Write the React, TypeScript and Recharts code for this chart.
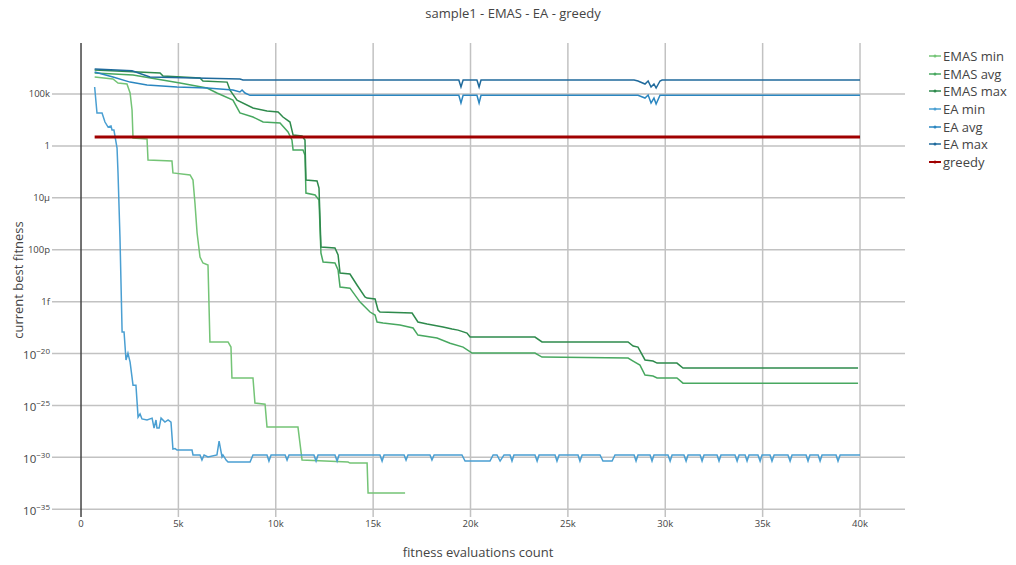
import React from 'react';
import { LineChart, Line, XAxis, YAxis, ReferenceLine } from 'recharts';

type Pt = [number, number];

const X_TICKS = [0, 5000, 10000, 15000, 20000, 25000, 30000, 35000, 40000];
const Y_TICKS = [1e5, 1, 1e-5, 1e-10, 1e-15, 1e-20, 1e-25, 1e-30, 1e-35];
const Y_NAMED: { [k: number]: string } = { 5: '100k', 0: '1', [-5]: '10µ', [-10]: '100p', [-15]: '1f' };

// [evaluations, fitness]
const emasMin: Pt[] = [
  [700, 4.3e6], [1640, 2.8e6], [1900, 1.15e6], [2360, 9.2e5], [2520, 1.25e5], [2620, 2.9e3],
  [2670, 5.8], [3390, 4.6], [3440, 0.044], [4670, 0.035], [4720, 2.5e-3], [5600, 1.6e-3],
  [5750, 5.1e-4], [5850, 3.2e-6], [5960, 4.1e-9], [6110, 2e-11], [6260, 5.3e-12], [6520, 3.4e-12],
  [6620, 1.3e-19], [7550, 1.3e-19], [7700, 4.2e-20], [7750, 4.4e-23], [8830, 4.4e-23], [8930, 1.7e-25],
  [9450, 1.3e-25], [9550, 8.3e-28], [11140, 8.3e-28], [11350, 5.5e-31], [13710, 3.5e-31], [13810, 2.8e-31],
  [14690, 2.8e-31], [14740, 3.6e-34], [16640, 3.6e-34],
];

const emasAvg: Pt[] = [
  [700, 1.05e7], [2670, 6.7e6], [5080, 1.15e6], [6470, 3.8e5], [6980, 1.25e5], [7800, 2.6e4],
  [8160, 1.5e3], [8830, 610], [9350, 200], [10220, 162], [10630, 22], [10830, 3.7], [10890, 0.41],
  [11400, 0.41], [11500, 0.13], [11550, 2.9e-5], [12020, 1.9e-5], [12220, 6.2e-6], [12320, 4.8e-11],
  [12430, 6.6e-12], [13040, 5.3e-12], [13200, 1.1e-12], [13300, 2.6e-14], [13810, 2e-14], [14330, 9.1e-16],
  [14840, 1e-16], [15100, 5.1e-17], [15200, 1.1e-17], [15510, 8.7e-18], [16380, 5.6e-18], [17050, 2.9e-18],
  [17300, 6e-19], [18280, 3.1e-19], [18950, 1e-19], [19620, 4.2e-20], [20080, 1.1e-20], [23310, 1.1e-20],
  [23670, 4.6e-21], [28090, 3.7e-21], [28350, 1.9e-21], [28700, 7.7e-22], [28960, 8.5e-23], [29370, 6.8e-23],
  [29580, 4.4e-23], [30600, 4.4e-23], [30910, 1.4e-23], [39900, 1.4e-23],
];

const emasMax: Pt[] = [
  [700, 2e7], [4060, 1.05e7], [4210, 5.4e6], [6110, 3.5e6], [6260, 1.8e6], [7500, 1.4e6], [7650, 2.4e5],
  [8010, 2.6e4], [8830, 4.5e3], [9550, 2.3e3], [10120, 1.85e3], [10370, 610], [10730, 200], [10890, 11],
  [11350, 8.9], [11500, 3.7], [11550, 5.1e-4], [12120, 4.2e-4], [12220, 8.7e-5], [12320, 1.8e-10],
  [13040, 1.45e-10], [13200, 3.1e-11], [13300, 5.7e-13], [13810, 4.6e-13], [14170, 4e-14], [14580, 2.8e-15],
  [14690, 2.2e-15], [15100, 1.8e-15], [15250, 1.55e-16], [15350, 1e-16], [17000, 8e-17], [17300, 1.1e-17],
  [17770, 6.9e-18], [18590, 3.6e-18], [19050, 2.3e-18], [19360, 1.8e-18], [19820, 9.4e-19], [19980, 3.9e-19],
  [23310, 3.9e-19], [23670, 1.3e-19], [28090, 1.3e-19], [28350, 5.3e-20], [28600, 4.2e-20], [28960, 2.4e-21],
  [29370, 1.9e-21], [29580, 1.2e-21], [30600, 1.2e-21], [30910, 4e-22], [39900, 4e-22],
];

const eaMin: Pt[] = [
  [700, 4.7e5], [820, 1.5e3], [1080, 1.5e3], [1230, 200], [1390, 66], [1540, 83], [1590, 34], [1690, 34],
  [1850, 0.63], [1900, 2.5e-3], [2000, 1.7e-9], [2110, 1.2e-18], [2210, 1.2e-18], [2310, 2.4e-21],
  [2410, 1.1e-20], [2520, 1.5e-21], [2670, 9e-24], [2820, 9e-24], [2930, 7.6e-27], [3030, 1.5e-26],
  [3130, 5e-27], [3390, 4e-27], [3650, 6e-27], [3750, 6.6e-28], [3850, 4e-27], [3900, 6.6e-28],
  [4010, 6.6e-28], [4110, 6e-27], [4310, 2.5e-27], [4470, 4e-27], [4620, 2.5e-27], [4720, 6.3e-30],
  [4830, 7e-30], [4930, 5e-30], [5700, 5e-30], [5750, 1.7e-30], [6110, 1.7e-30], [6210, 5.5e-31],
  [6320, 1.7e-30], [6520, 1.1e-30], [6980, 1.7e-30], [7090, 3.7e-29], [7240, 1.1e-30], [7290, 1.7e-30],
  [7450, 5.5e-31], [7550, 3.5e-31], [8680, 3.5e-31], [8830, 1.7e-30], [9550, 1.7e-30], [9650, 4.4e-31],
  [9760, 1.7e-30], [10480, 1.7e-30], [10580, 5.5e-31], [10680, 1.7e-30], [11960, 1.7e-30], [12070, 4.4e-31],
  [12170, 1.7e-30], [13040, 1.7e-30], [13150, 4.4e-31], [13250, 1.7e-30], [15350, 1.7e-30], [15460, 4.4e-31],
  [15560, 1.7e-30], [16590, 1.7e-30], [16690, 5.5e-31], [16790, 1.7e-30], [17920, 1.7e-30], [18020, 5.5e-31],
  [18130, 1.7e-30], [19560, 1.7e-30], [19720, 4.4e-31], [21000, 4.4e-31], [21160, 1.7e-30], [21360, 1.7e-30],
  [21520, 4.4e-31], [21720, 1.7e-30], [22030, 1.7e-30], [22130, 4.4e-31], [22230, 1.7e-30], [23310, 1.7e-30],
  [23420, 4.4e-31], [23520, 1.7e-30], [24340, 1.7e-30], [24440, 4.4e-31], [24550, 1.7e-30], [25520, 1.7e-30],
  [25620, 4.4e-31], [25730, 1.7e-30], [26650, 1.7e-30], [26800, 4.4e-31], [27270, 4.4e-31], [27420, 1.7e-30],
  [28400, 1.7e-30], [28500, 4.4e-31], [28600, 1.7e-30], [29220, 1.7e-30], [29320, 4.4e-31], [29420, 1.7e-30],
  [30140, 1.7e-30], [30250, 4.4e-31], [30350, 1.7e-30], [30960, 1.7e-30], [31070, 4.4e-31], [31170, 1.7e-30],
  [31790, 1.7e-30], [31890, 4.4e-31], [31990, 1.7e-30], [32660, 1.7e-30], [32760, 4.4e-31], [32860, 1.7e-30],
  [33580, 1.7e-30], [33690, 4.4e-31], [33790, 1.7e-30], [34100, 1.7e-30], [34200, 4.4e-31], [34300, 1.7e-30],
  [34760, 1.7e-30], [34870, 4.4e-31], [34970, 1.7e-30], [35380, 1.7e-30], [35480, 4.4e-31], [35590, 1.7e-30],
  [36300, 1.7e-30], [36410, 4.4e-31], [36510, 1.7e-30], [37230, 1.7e-30], [37330, 4.4e-31], [37430, 1.7e-30],
  [37850, 1.7e-30], [37950, 4.4e-31], [38050, 1.7e-30], [38770, 1.7e-30], [38870, 4.4e-31], [38980, 1.7e-30],
  [40000, 1.7e-30],
];

const eaAvg: Pt[] = [
  [700, 1.3e7], [1640, 4.3e6], [2520, 1.4e6], [3390, 7.4e5], [4930, 4.7e5], [6470, 3.8e5], [7800, 2.4e5],
  [8160, 1.55e5], [8270, 2.4e5], [8420, 1.25e5], [8680, 7.5e4], [19400, 7.5e4], [19510, 1.35e4],
  [19620, 7.5e4], [20330, 7.5e4], [20440, 1.35e4], [20540, 7.5e4], [28600, 7.5e4], [28960, 4.1e4],
  [29120, 8e4], [29270, 1.35e4], [29420, 4.1e4], [29530, 1.1e4], [29730, 7.5e4], [40000, 7.5e4],
];

const eaMax: Pt[] = [
  [700, 2.6e7], [2620, 1.7e7], [3540, 4.3e6], [8160, 2.8e6], [8320, 2.2e6], [19400, 2.2e6], [19510, 4.7e5],
  [19620, 2.2e6], [20330, 2.2e6], [20440, 4.7e5], [20540, 2.2e6], [28400, 2.2e6], [28600, 1.8e6],
  [28960, 9.2e5], [29120, 1.8e6], [29270, 4.7e5], [29420, 9.2e5], [29530, 3.8e5], [29730, 1.8e6],
  [29840, 2.2e6], [40000, 2.2e6],
];

const greedy: Pt[] = [[700, 7.2], [40000, 7.2]];

const SERIES = [
  { name: 'EMAS min', pts: emasMin, color: '#74c476', width: 1.5 },
  { name: 'EMAS avg', pts: emasAvg, color: '#48a860', width: 1.5 },
  { name: 'EMAS max', pts: emasMax, color: '#2e8a4c', width: 1.5 },
  { name: 'EA min', pts: eaMin, color: '#4a9fd2', width: 1.5 },
  { name: 'EA avg', pts: eaAvg, color: '#2a86c0', width: 1.5 },
  { name: 'EA max', pts: eaMax, color: '#1f6a9c', width: 1.5 },
  { name: 'greedy', pts: greedy, color: '#a00000', width: 3 },
];

const FONT = '"Open Sans", sans-serif';
const GRID = '#c2c2c2';

const XTick = (props: any) => {
  const { x, y, payload } = props;
  const v = payload.value;
  return (
    <text x={x} y={y + 10} textAnchor="middle" fontSize={9.5} fill="#444" fontFamily={FONT}>
      {v === 0 ? '0' : `${v / 1000}k`}
    </text>
  );
};

const YTick = (props: any) => {
  const { x, y, payload } = props;
  const e = Math.round(Math.log10(payload.value));
  if (Y_NAMED[e] !== undefined) {
    return (
      <text x={x - 2} y={y} dy="0.35em" textAnchor="end" fontSize={9.5} fill="#444" fontFamily={FONT}>
        {Y_NAMED[e]}
      </text>
    );
  }
  return (
    <text x={x - 2} y={y} dy="0.35em" textAnchor="end" fill="#444" fontFamily={FONT}>
      <tspan fontSize={11.5}>10</tspan>
      <tspan fontSize={8} dy="-5">{'\u2212' + Math.abs(e)}</tspan>
    </text>
  );
};

const App = () => {
  return (
    <div style={{ position: 'absolute', left: 0, top: 0, width: 1016, height: 565, background: '#fff', fontFamily: FONT, color: '#444' }}>
      <LineChart width={1016} height={565} margin={{ top: 43, right: 111, bottom: 0, left: 0 }}>
        <XAxis
          type="number"
          dataKey="x"
          domain={[-1490, 42310]}
          ticks={X_TICKS}
          allowDataOverflow
          axisLine={false}
          tickLine={false}
          tickSize={0}
          tickMargin={0}
          height={48}
          tick={XTick}
        />
        <YAxis
          type="number"
          scale="log"
          domain={[1.8e-36, 8.2e9]}
          ticks={Y_TICKS}
          allowDataOverflow
          axisLine={false}
          tickLine={false}
          tickSize={0}
          tickMargin={0}
          width={52}
          tick={YTick}
        />
        {Y_TICKS.map((t) => (
          <ReferenceLine key={'gy' + t} y={t} stroke={GRID} strokeWidth={1.5} />
        ))}
        {X_TICKS.filter((t) => t !== 0).map((t) => (
          <ReferenceLine key={'gx' + t} x={t} stroke={GRID} strokeWidth={1.5} />
        ))}
        <ReferenceLine x={0} stroke="#444" strokeWidth={1.5} />
        {SERIES.map((s) => (
          <Line
            key={s.name}
            data={s.pts.map(([x, y]) => ({ x, y }))}
            dataKey="y"
            name={s.name}
            type="linear"
            stroke={s.color}
            strokeWidth={s.width}
            dot={false}
            isAnimationActive={false}
          />
        ))}
      </LineChart>

      <div style={{ position: 'absolute', left: 513, top: 13, transform: 'translate(-50%, -50%)', fontSize: 13, whiteSpace: 'nowrap' }}>
        sample1 - EMAS - EA - greedy
      </div>
      <div style={{ position: 'absolute', left: 478, top: 552, transform: 'translate(-50%, -50%)', fontSize: 13, whiteSpace: 'nowrap' }}>
        fitness evaluations count
      </div>
      <div style={{ position: 'absolute', left: 18, top: 280, transform: 'translate(-50%, -50%) rotate(-90deg)', fontSize: 13, whiteSpace: 'nowrap' }}>
        current best fitness
      </div>

      <div style={{ position: 'absolute', left: 929, top: 47 }}>
        {SERIES.map((s) => (
          <div key={s.name} style={{ height: 17.7, display: 'flex', alignItems: 'center', fontSize: 13 }}>
            <svg width={12} height={8} style={{ marginRight: 2 }}>
              <line x1={0} y1={4} x2={12} y2={4} stroke={s.color} strokeWidth={s.width === 3 ? 2 : 1.5} />
              <circle cx={6} cy={4} r={1.5} fill={s.color} />
            </svg>
            <span>{s.name}</span>
          </div>
        ))}
      </div>
    </div>
  );
};

export default App;
